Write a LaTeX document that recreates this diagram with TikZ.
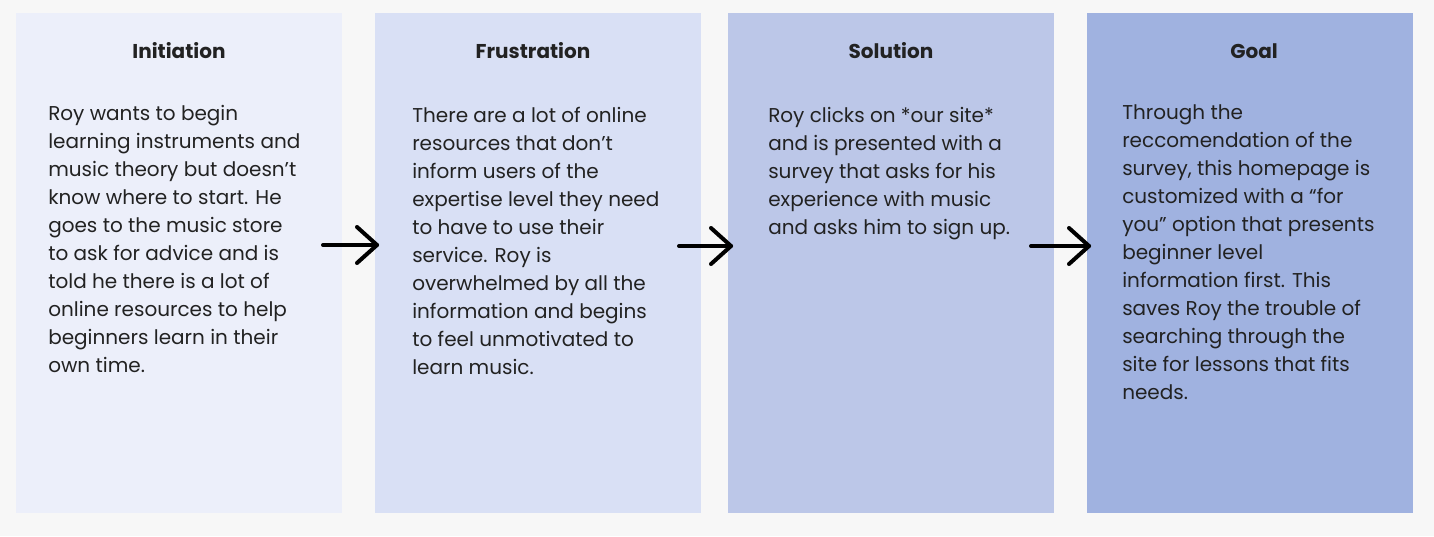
\documentclass[tikz,border=0pt]{standalone}
\usepackage{fontspec}
\setmainfont{Poppins}
\definecolor{bg}{HTML}{F7F7F7}
\definecolor{c1}{HTML}{ECEFFA}
\definecolor{c2}{HTML}{D9E0F5}
\definecolor{c3}{HTML}{BCC7E8}
\definecolor{c4}{HTML}{A0B2E0}
\definecolor{ink}{HTML}{222222}
\tikzset{
  panel/.style={draw=none, inner sep=0pt, minimum width=326*0.75pt, minimum height=500*0.75pt, anchor=north west},
  head/.style={font=\fontsize{15}{21}\selectfont\bfseries, text=ink, anchor=base, inner sep=0pt},
  body/.style={font=\fontsize{15}{21}\selectfont, text=ink, align=left, anchor=base west, inner sep=0pt},
  flow/.style={draw=black, line width=3pt, line cap=round, line join=round},
}
\begin{document}
\begin{tikzpicture}[x=0.75pt,y=-0.75pt]
\fill[bg] (0,0) rectangle (1434,536);
\useasboundingbox (0,0) rectangle (1434,536);
\node[panel, fill=c1] (p1) at (16,13) {};
\node[panel, fill=c2] (p2) at (375,13) {};
\node[panel, fill=c3] (p3) at (728,13) {};
\node[panel, fill=c4] (p4) at (1087,13) {};

\node[head] (h1) at (179,58) {Initiation};
\node[head] (h2) at (533,58) {Frustration};
\node[head] (h3) at (891,58) {Solution};
\node[head] (h4) at (1254,58) {Goal};

% base anchor = baseline of the last line
\node[body] (t1) at (48,372) {Roy wants to begin\\learning instruments and\\music theory but doesn’t\\know where to start. He\\goes to the music store\\to ask for advice and is\\told he there is a lot of\\online resources to help\\beginners learn in their\\own time.};
\node[body] (t2) at (412,374) {There are a lot of online\\resources that don’t\\inform users of the\\expertise level they need\\to have to use their\\service. Roy is\\overwhelmed by all the\\information and begins\\to feel unmotivated to\\learn music.};
\node[body] (t3) at (768,234) {Roy clicks on *our site*\\and is presented with a\\survey that asks for his\\experience with music\\and asks him to sign up.};
\node[body] (t4) at (1122,399) {Through the\\reccomendation of the\\survey, this homepage is\\customized with a “for\\you” option that presents\\beginner level\\information first. This\\saves Roy the trouble of\\searching through the\\site for lessons that fits\\needs.};

\coordinate (a1s) at (323,245); \coordinate (a1e) at (377,245);
\coordinate (a2s) at (679,246); \coordinate (a2e) at (731,246);
\coordinate (a3s) at (1031,246); \coordinate (a3e) at (1089,246);
\foreach \s/\e in {a1s/a1e,a2s/a2e,a3s/a3e}{
  \draw[flow] (\s) -- (\e);
  \draw[flow] ([shift={(-20,-18)}]\e) -- (\e) -- ([shift={(-20,18)}]\e);
}
\end{tikzpicture}
\end{document}
